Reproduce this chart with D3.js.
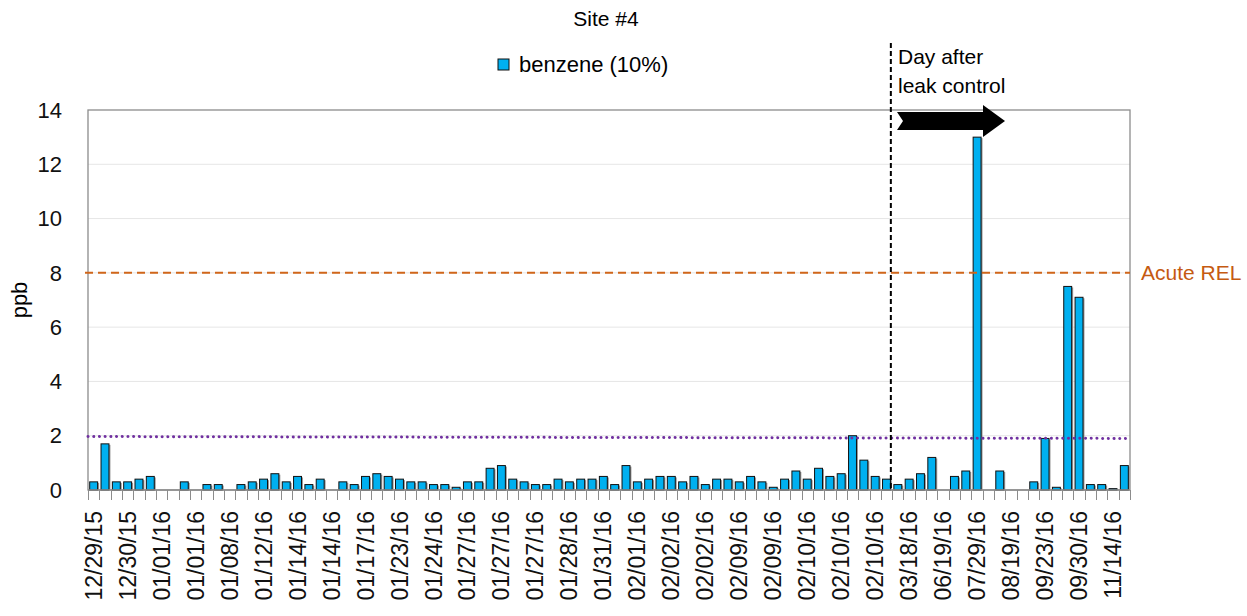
<!DOCTYPE html>
<html lang="en">
<head>
  <meta charset="UTF-8">
  <title>Site #4 benzene</title>
  <script src="https://d3js.org/d3.v7.min.js"></script>
  <style>
    body { margin: 0; background: #fff; }
    svg { display: block; font-family: 'Liberation Sans', Arial, sans-serif; }
  </style>
</head>
<body>
  <svg width="1247" height="616"></svg>
  <script>
    // benzene (10%) in ppb, one value per sample
    const benzene = [
      0.3, 1.7, 0.3, 0.3, 0.4, 0.5, 0, 0, 0.3, 0,
      0.2, 0.2, 0, 0.2, 0.3, 0.4, 0.6, 0.3, 0.5, 0.2,
      0.4, 0, 0.3, 0.2, 0.5, 0.6, 0.5, 0.4, 0.3, 0.3,
      0.2, 0.2, 0.1, 0.3, 0.3, 0.8, 0.9, 0.4, 0.3, 0.2,
      0.2, 0.4, 0.3, 0.4, 0.4, 0.5, 0.2, 0.9, 0.3, 0.4,
      0.5, 0.5, 0.3, 0.5, 0.2, 0.4, 0.4, 0.3, 0.5, 0.3,
      0.1, 0.4, 0.7, 0.4, 0.8, 0.5, 0.6, 2.0, 1.1, 0.5,
      0.4, 0.2, 0.4, 0.6, 1.2, 0, 0.5, 0.7, 13.0, 0,
      0.7, 0, 0, 0.3, 1.9, 0.1, 7.5, 7.1, 0.2, 0.2,
      0.05, 0.9
    ];

    // only every third sample carries a date label
    const tickLabels = [
      "12/29/15", "12/30/15", "01/01/16", "01/01/16", "01/08/16", "01/12/16",
      "01/14/16", "01/14/16", "01/17/16", "01/23/16", "01/24/16", "01/27/16",
      "01/27/16", "01/27/16", "01/28/16", "01/31/16", "02/01/16", "02/02/16",
      "02/02/16", "02/09/16", "02/09/16", "02/10/16", "02/10/16", "02/10/16",
      "03/18/16", "06/19/16", "07/29/16", "08/19/16", "09/23/16", "09/30/16",
      "11/14/16"
    ];
    const labelEvery = 3;
    const yTicks = [0, 2, 4, 6, 8, 10, 12, 14];

    const acuteREL = 8;           // ppb
    const backgroundLine = [1.97, 1.9]; // purple dotted, start / end
    const leakControlIndex = 71;  // first sample after leak control

    const plot = {left: 88, right: 1130, top: 110, bottom: 490};
    const svg = d3.select("svg");

    const x = d3.scaleBand()
      .domain(d3.range(benzene.length))
      .range([plot.left, plot.right])
      .paddingInner(0.3)
      .paddingOuter(0.15);

    const y = d3.scaleLinear()
      .domain([0, 14])
      .range([plot.bottom, plot.top]);

    // title
    svg.append("text")
      .attr("x", 606).attr("y", 26)
      .attr("text-anchor", "middle")
      .attr("font-size", 21)
      .text("Site #4");

    // gridlines
    svg.append("g")
      .selectAll("line")
      .data(yTicks.filter(t => t > 0 && t < 14))
      .join("line")
      .attr("x1", plot.left).attr("x2", plot.right)
      .attr("y1", d => y(d)).attr("y2", d => y(d))
      .attr("stroke", "#e6e6e6").attr("stroke-width", 1);

    // frame
    svg.append("rect")
      .attr("x", plot.left).attr("y", plot.top)
      .attr("width", plot.right - plot.left)
      .attr("height", plot.bottom - plot.top)
      .attr("fill", "none")
      .attr("stroke", "#8c8c8c").attr("stroke-width", 1.3);

    // y tick labels
    svg.append("g")
      .selectAll("text")
      .data(yTicks)
      .join("text")
      .attr("x", 62).attr("y", d => y(d))
      .attr("dy", "0.35em")
      .attr("text-anchor", "end")
      .attr("font-size", 22)
      .attr("fill", "#111")
      .text(d => d);

    svg.append("text")
      .attr("transform", `translate(19,${y(7)}) rotate(-90)`)
      .attr("text-anchor", "middle")
      .attr("dy", "0.35em")
      .attr("font-size", 22)
      .text("ppb");

    // bars (with a soft shadow like the source)
    const bars = svg.append("g");
    bars.selectAll("rect.shadow")
      .data(benzene.map((v, i) => ({v, i})).filter(d => d.v > 0))
      .join("rect")
      .attr("class", "shadow")
      .attr("x", d => x(d.i) + 1.5)
      .attr("y", d => y(d.v) + 1)
      .attr("width", x.bandwidth())
      .attr("height", d => y(0) - y(d.v) - 1)
      .attr("fill", "#9a9a9a");
    bars.selectAll("rect.bar")
      .data(benzene.map((v, i) => ({v, i})).filter(d => d.v > 0))
      .join("rect")
      .attr("class", "bar")
      .attr("x", d => x(d.i))
      .attr("y", d => y(d.v))
      .attr("width", x.bandwidth())
      .attr("height", d => y(0) - y(d.v))
      .attr("fill", "#00b0f0")
      .attr("stroke", "#111").attr("stroke-width", 1);

    // x axis ticks on every category boundary
    const step = x.step();
    const first = x(0) - x.paddingInner() * step / 2;
    svg.append("g")
      .selectAll("line")
      .data(d3.range(benzene.length + 1))
      .join("line")
      .attr("x1", i => Math.round(first + i * step) + 0.5)
      .attr("x2", i => Math.round(first + i * step) + 0.5)
      .attr("y1", plot.bottom).attr("y2", plot.bottom + 10)
      .attr("stroke", "#8c8c8c").attr("stroke-width", 1);

    svg.append("line")
      .attr("x1", plot.left).attr("x2", plot.right)
      .attr("y1", plot.bottom).attr("y2", plot.bottom)
      .attr("stroke", "#8c8c8c").attr("stroke-width", 1.3);

    svg.append("g")
      .selectAll("text")
      .data(tickLabels)
      .join("text")
      .attr("transform", (d, k) =>
        `translate(${x(k * labelEvery) + x.bandwidth() / 2},511) rotate(-90)`)
      .attr("text-anchor", "end")
      .attr("dy", "0.35em")
      .attr("font-size", 23)
      .attr("fill", "#111")
      .text(d => d);

    // Acute REL line
    svg.append("line")
      .attr("x1", plot.left - 3).attr("x2", plot.right)
      .attr("y1", y(acuteREL)).attr("y2", y(acuteREL))
      .attr("stroke", "#d0661a").attr("stroke-width", 2)
      .attr("stroke-dasharray", "8,5");
    svg.append("text")
      .attr("x", 1141).attr("y", y(acuteREL))
      .attr("dy", "0.35em")
      .attr("font-size", 21)
      .attr("fill", "#c55a11")
      .text("Acute REL");

    // purple dotted background line
    svg.append("line")
      .attr("x1", plot.left).attr("x2", plot.right)
      .attr("y1", y(backgroundLine[0])).attr("y2", y(backgroundLine[1]))
      .attr("stroke", "#7030a0").attr("stroke-width", 3)
      .attr("stroke-linecap", "round")
      .attr("stroke-dasharray", "0.1,5.6");

    // leak control marker
    const lx = x(leakControlIndex) - 3;
    svg.append("line")
      .attr("x1", lx).attr("x2", lx)
      .attr("y1", 43).attr("y2", plot.bottom)
      .attr("stroke", "#000").attr("stroke-width", 2)
      .attr("stroke-dasharray", "5,3");

    svg.append("text")
      .attr("x", 898).attr("y", 64)
      .attr("font-size", 21)
      .text("Day after");
    svg.append("text")
      .attr("x", 898).attr("y", 93)
      .attr("font-size", 21)
      .text("leak control");

    const ax = 897, ay = 121;
    svg.append("path")
      .attr("d", `M${ax},${ay - 9} L${ax + 86},${ay - 9} L${ax + 86},${ay - 16}
                  L${ax + 108},${ay} L${ax + 86},${ay + 16} L${ax + 86},${ay + 9}
                  L${ax},${ay + 9} L${ax + 6},${ay} Z`)
      .attr("fill", "#000");

    // legend
    svg.append("rect")
      .attr("x", 498).attr("y", 59)
      .attr("width", 11).attr("height", 11)
      .attr("fill", "#00b0f0")
      .attr("stroke", "#111").attr("stroke-width", 1);
    svg.append("text")
      .attr("x", 519).attr("y", 72)
      .attr("font-size", 22)
      .text("benzene (10%)");
  </script>
</body>
</html>
